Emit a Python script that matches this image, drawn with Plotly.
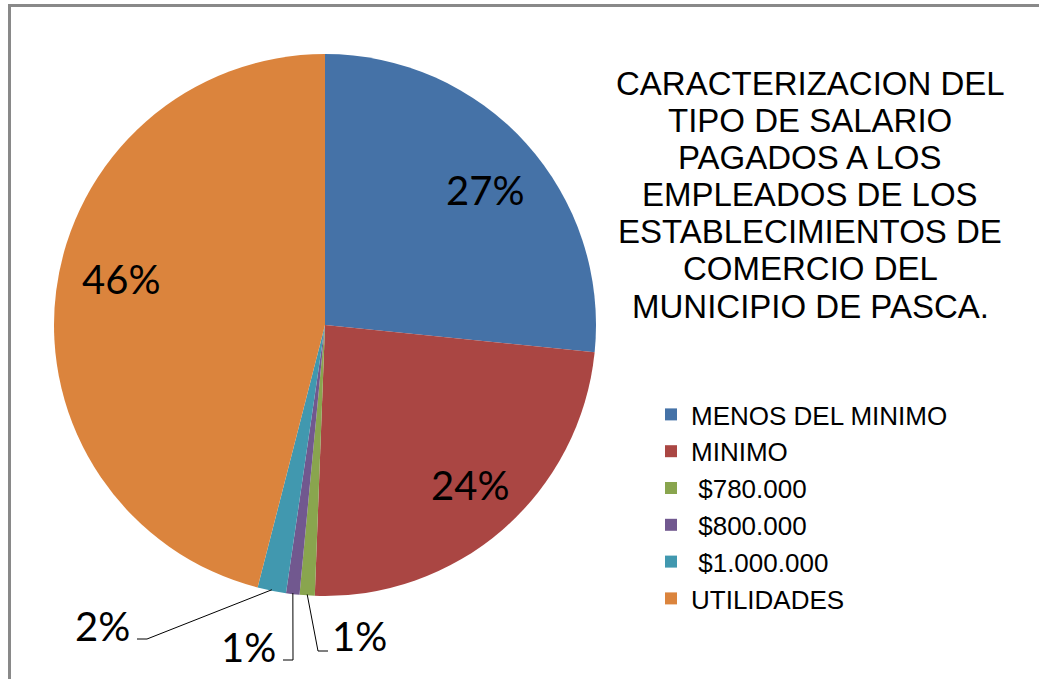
import math
import plotly.graph_objects as go

# ---------------- data ----------------
categories = ["MENOS DEL MINIMO", "MINIMO", "\u00a0$780.000", "\u00a0$800.000", "\u00a0$1.000.000", "UTILIDADES"]
values = [26.6, 24.0, 0.9, 0.8, 1.7, 46.0]
colors = ["#4572A7", "#AA4643", "#89A54E", "#71588F", "#4198AF", "#DB843D"]
title_lines = [
    "CARACTERIZACION DEL",
    "TIPO DE SALARIO",
    "PAGADOS A LOS",
    "EMPLEADOS DE LOS",
    "ESTABLECIMIENTOS DE",
    "COMERCIO DEL",
    "MUNICIPIO DE PASCA.",
]

# ---------------- layout geometry (pixels) ----------------
W, H = 1039, 679
CX, CY, R = 325, 325, 271


def px(x):
    return x / W


def py(y):
    return 1 - y / H


fig = go.Figure(
    go.Pie(
        labels=categories,
        values=values,
        sort=False,
        direction="clockwise",
        rotation=0,
        marker=dict(colors=colors, line=dict(width=0)),
        textinfo="none",
        hoverinfo="label+percent",
        domain=dict(x=[px(CX - R), px(CX + R)], y=[py(CY + R), py(CY - R)]),
        showlegend=True,
    )
)

total = sum(values)
label_font = dict(family="Lato, Carlito, sans-serif", size=40, color="black")

# label placement (pixel layout): big slices -> label centre;
# small slices -> label centre, leader elbow, leader end
label_layout = {
    0: dict(text=(485, 190)),
    1: dict(text=(470, 485)),
    2: dict(text=(359, 636), elbow=(318, 651), end=(328, 651)),
    3: dict(text=(248, 647), elbow=(293, 660), end=(283, 660)),
    4: dict(text=(102, 626), elbow=(147, 639), end=(137, 639)),
    5: dict(text=(121, 279)),
}

annotations = []
shapes = []
cum = 0.0
for i, v in enumerate(values):
    mid = (cum + v / 2) / total * 2 * math.pi
    cum += v
    pct = round(v / total * 100)
    txt = f"{pct}%"
    lay = label_layout[i]
    if "elbow" in lay:
        sx = CX + (R - 1) * math.sin(mid)
        sy = CY - (R - 1) * math.cos(mid)
        ex, ey = lay["elbow"]
        fx, fy = lay["end"]
        shapes.append(dict(
            type="path", xref="paper", yref="paper",
            path=f"M {px(sx)} {py(sy)} L {px(ex)} {py(ey)} L {px(fx)} {py(fy)}",
            line=dict(color="black", width=1),
        ))
    tx, ty = lay["text"]
    annotations.append(dict(
        x=px(tx), y=py(ty), xref="paper", yref="paper", text=txt,
        showarrow=False, xanchor="center", yanchor="middle", font=label_font,
    ))

# title lines
for k, line in enumerate(title_lines):
    annotations.append(dict(
        x=px(810), y=py(83 + k * 37.2), xref="paper", yref="paper", text=line,
        showarrow=False, xanchor="center", yanchor="middle",
        font=dict(family="Liberation Sans, Arial, sans-serif", size=33, color="black"),
    ))

# outer frame (left and top edges)
shapes.append(dict(
    type="path", xref="paper", yref="paper",
    path=f"M {px(9.5)} {py(H)} L {px(9.5)} {py(5.5)} L {px(W)} {py(5.5)}",
    line=dict(color="#898989", width=3),
))

fig.update_layout(
    width=W, height=H,
    margin=dict(l=0, r=0, t=0, b=0),
    paper_bgcolor="white",
    plot_bgcolor="white",
    annotations=annotations,
    shapes=shapes,
    legend=dict(
        x=px(651), y=py(391), xanchor="left", yanchor="top",
        font=dict(family="Liberation Sans, Arial, sans-serif", size=26, color="black"),
        bgcolor="rgba(0,0,0,0)", tracegroupgap=0, itemclick=False,
    ),
)

fig.write_html(
    "out.html",
    config={"displayModeBar": False},
    post_script="document.body.style.margin='0px';",
)
